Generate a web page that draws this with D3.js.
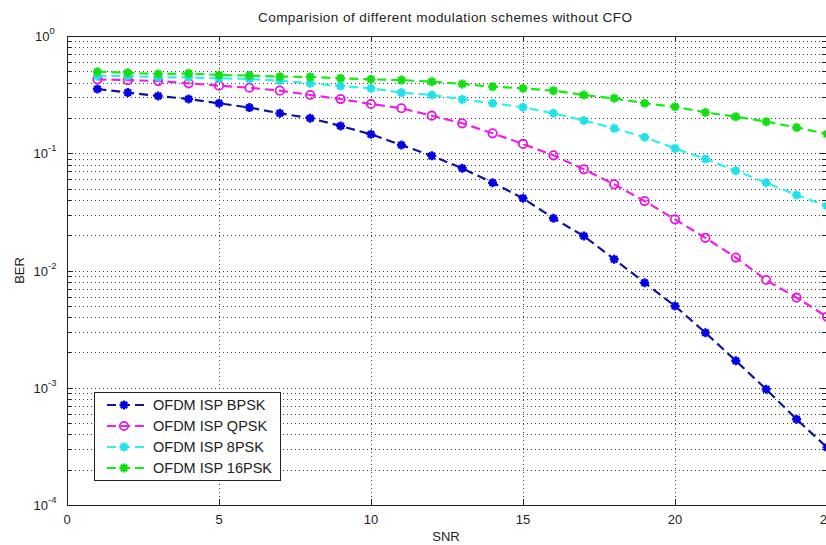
<!DOCTYPE html>
<html>
<head>
<meta charset="utf-8">
<script src="https://cdn.jsdelivr.net/npm/d3@7"></script>
<style>
  body { margin: 0; background: #fff; }
  svg text { font-family: "Liberation Sans", Arial, sans-serif; fill: #222; }
</style>
</head>
<body>
<svg id="chart" width="826" height="545"></svg>
<script>
const snr = d3.range(1, 26);

const berBPSK = [0.353, 0.329, 0.308, 0.29, 0.267, 0.245, 0.219, 0.199, 0.171, 0.145,
  0.1175, 0.095, 0.0744, 0.0561, 0.0413, 0.0279, 0.0197, 0.01246, 0.00787, 0.00498,
  0.00295, 0.0017, 0.00097, 0.000538, 0.00031];
const berQPSK = [0.427, 0.42, 0.413, 0.395, 0.377, 0.362, 0.342, 0.314, 0.29, 0.263,
  0.242, 0.209, 0.18, 0.148, 0.12, 0.096, 0.073, 0.0543, 0.0391, 0.0273,
  0.019, 0.0129, 0.0083, 0.00586, 0.00404];
const ber8PSK = [0.456, 0.456, 0.444, 0.444, 0.436, 0.43, 0.416, 0.395, 0.375, 0.358,
  0.329, 0.314, 0.288, 0.267, 0.247, 0.219, 0.19, 0.163, 0.137, 0.11,
  0.0895, 0.0708, 0.0561, 0.044, 0.0355];
const ber16PSK = [0.496, 0.486, 0.474, 0.48, 0.465, 0.46, 0.45, 0.448, 0.436, 0.427,
  0.421, 0.408, 0.39, 0.37, 0.358, 0.342, 0.314, 0.294, 0.267, 0.249,
  0.223, 0.205, 0.186, 0.166, 0.146];

const seriesNames = ['OFDM ISP BPSK', 'OFDM ISP QPSK', 'OFDM ISP 8PSK', 'OFDM ISP 16PSK'];
const xTicks = [0, 5, 10, 15, 20, 25];
const yTicks = [1e-4, 1e-3, 1e-2, 1e-1, 1];

const series = [
  { name: seriesNames[0], values: berBPSK, line: '#12129a', mark: '#0000e6', marker: 'star' },
  { name: seriesNames[1], values: berQPSK, line: '#f020e8', mark: '#e818e0', marker: 'circle' },
  { name: seriesNames[2], values: ber8PSK, line: '#30f0f0', mark: '#20e0e8', marker: 'star' },
  { name: seriesNames[3], values: ber16PSK, line: '#10f010', mark: '#10e010', marker: 'star' },
];

const margin = { top: 36, left: 67, bottom: 40 };
const svg = d3.select('#chart');
const plotRight = 827;
const plotBottom = 505;

const x = d3.scaleLinear().domain([0, 25]).range([margin.left, plotRight]);
const y = d3.scaleLog().domain([1e-4, 1]).range([plotBottom, margin.top]);

// grid
const grid = svg.append('g').attr('stroke', '#000').attr('stroke-width', 1)
  .attr('stroke-dasharray', '1,3').attr('shape-rendering', 'crispEdges').attr('opacity', 0.75);

const minorY = [];
for (let e = -4; e < 0; e++) {
  for (let m = 1; m <= 9; m++) minorY.push(m * Math.pow(10, e));
}
grid.selectAll('.gy').data(minorY.filter((v) => v > 1e-4)).join('line')
  .attr('x1', margin.left).attr('x2', plotRight)
  .attr('y1', (d) => Math.round(y(d)) + 0.5).attr('y2', (d) => Math.round(y(d)) + 0.5);
grid.selectAll('.gx').data(xTicks.slice(1, -1)).join('line')
  .attr('x1', (d) => Math.round(x(d)) + 0.5).attr('x2', (d) => Math.round(x(d)) + 0.5)
  .attr('y1', margin.top).attr('y2', plotBottom);

// axes frame + ticks
const axisG = svg.append('g').attr('stroke', '#222').attr('shape-rendering', 'crispEdges');
axisG.append('line').attr('x1', margin.left).attr('x2', plotRight).attr('y1', margin.top + 0.5).attr('y2', margin.top + 0.5);
axisG.append('line').attr('x1', margin.left).attr('x2', plotRight).attr('y1', plotBottom + 0.5).attr('y2', plotBottom + 0.5);
axisG.append('line').attr('x1', margin.left + 0.5).attr('x2', margin.left + 0.5).attr('y1', margin.top).attr('y2', plotBottom);

axisG.selectAll('.tx').data(xTicks).join('g').each(function (d) {
  const g = d3.select(this);
  const px = Math.round(x(d)) + 0.5;
  g.append('line').attr('x1', px).attr('x2', px).attr('y1', plotBottom).attr('y2', plotBottom - 6);
  g.append('line').attr('x1', px).attr('x2', px).attr('y1', margin.top).attr('y2', margin.top + 6);
});
axisG.selectAll('.ty').data(minorY.concat([1])).join('line')
  .attr('x1', margin.left).attr('x2', (d) => margin.left + (yTicks.includes(d) ? 6 : 4))
  .attr('y1', (d) => Math.round(y(d)) + 0.5).attr('y2', (d) => Math.round(y(d)) + 0.5);
axisG.selectAll('.tyr').data(minorY.concat([1])).join('line')
  .attr('x1', plotRight - 1).attr('x2', (d) => plotRight - 1 - (yTicks.includes(d) ? 6 : 4))
  .attr('y1', (d) => Math.round(y(d)) + 0.5).attr('y2', (d) => Math.round(y(d)) + 0.5);

// tick labels
svg.append('g').selectAll('text').data(xTicks).join('text')
  .attr('x', (d) => x(d)).attr('y', plotBottom + 19)
  .attr('text-anchor', 'middle').attr('font-size', 13).text((d) => d);

const yl = svg.append('g').selectAll('text').data(yTicks).join('text')
  .attr('x', margin.left - 22).attr('y', (d) => y(d) + 5)
  .attr('text-anchor', 'middle').attr('font-size', 13);
yl.append('tspan').text('10');
yl.append('tspan').attr('dy', -7).attr('font-size', 9.5).text((d) => Math.round(Math.log10(d)));

svg.append('text').attr('x', 445).attr('y', 22)
  .attr('text-anchor', 'middle').attr('font-size', 13.5).attr('textLength', 374)
  .text('Comparision of different modulation schemes without CFO');
svg.append('text').attr('x', (margin.left + plotRight) / 2 - 1).attr('y', 541)
  .attr('text-anchor', 'middle').attr('font-size', 13).text('SNR');
svg.append('text').attr('transform', `translate(24,${(margin.top + plotBottom) / 2}) rotate(-90)`)
  .attr('text-anchor', 'middle').attr('font-size', 13).text('BER');

// markers
function drawMarker(g, type, color, cx, cy) {
  if (type === 'circle') {
    g.append('circle').attr('cx', cx).attr('cy', cy).attr('r', 4.2)
      .attr('fill', 'none').attr('stroke', color).attr('stroke-width', 1.8);
  } else {
    const r = 4.5;
    const d = [0, 45, 90, 135].map((a) => {
      const rad = (a * Math.PI) / 180;
      const dx = r * Math.cos(rad);
      const dy = r * Math.sin(rad);
      return `M${cx - dx},${cy - dy}L${cx + dx},${cy + dy}`;
    }).join('');
    g.append('path').attr('d', d).attr('stroke', color).attr('stroke-width', 2.4);
  }
}

const lineGen = d3.line().x((d) => x(d[0])).y((d) => y(d[1]));
const plot = svg.append('g');
series.forEach((s) => {
  const pts = snr.map((v, i) => [v, s.values[i]]);
  plot.append('path').datum(pts).attr('d', lineGen).attr('fill', 'none')
    .attr('stroke', s.line).attr('stroke-width', 2.2).attr('stroke-dasharray', '9,5');
  const mg = plot.append('g');
  pts.forEach((p) => drawMarker(mg, s.marker, s.mark, x(p[0]), y(p[1])));
});

// legend
const lg = svg.append('g');
lg.append('rect').attr('x', 94.5).attr('y', 392.5).attr('width', 186).attr('height', 88)
  .attr('fill', '#fff').attr('stroke', '#222').attr('stroke-width', 1);
series.forEach((s, i) => {
  const ly = 405 + i * 21;
  lg.append('line').attr('x1', 107).attr('x2', 149).attr('y1', ly).attr('y2', ly)
    .attr('stroke', s.line).attr('stroke-width', 2.2).attr('stroke-dasharray', '9,5');
  drawMarker(lg, s.marker, s.mark, 124, ly);
  lg.append('text').attr('x', 153).attr('y', ly + 5).attr('font-size', 14.5).text(s.name);
});
</script>
</body>
</html>
